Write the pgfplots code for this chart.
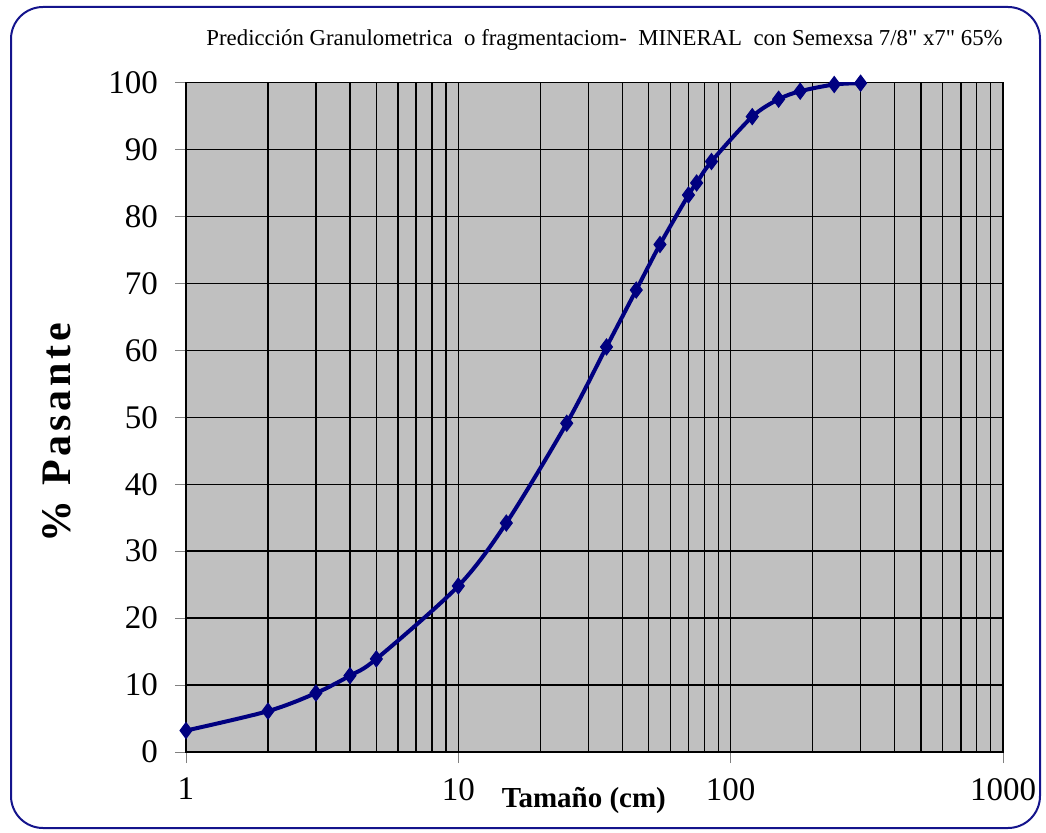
\documentclass[border=0pt]{standalone}
\usepackage{pgfplots}
\pgfplotsset{compat=1.18}
\usepackage{fontspec}
\setmainfont{Liberation Serif}
\newfontfamily\titlefont{Liberation Serif}[Ligatures=TeXOff]
\definecolor{serie}{RGB}{0,0,128}
\definecolor{fondo}{RGB}{192,192,192}
\definecolor{marco}{RGB}{20,20,140}
\begin{document}
\begin{tikzpicture}
\useasboundingbox (0,0) rectangle (523pt,416pt);
\draw[marco, line width=1pt, rounded corners=16pt] (5.5pt,2pt) rectangle (520pt,412.5pt);
\begin{axis}[
    at={(93pt,40pt)}, anchor=south west,
    scale only axis,
    width=408.5pt, height=334.75pt,
    xmode=log,
    xmin=1, xmax=1000,
    ymin=0, ymax=100,
    xtick={1,10,100,1000},
    xticklabels={1,10,100,1000},
    ytick={0,10,...,100},
    /pgf/number format/assume math mode=true,
    tick label style={font=\fontsize{16.5}{18}\selectfont},
    tick align=outside,
    xtick pos=bottom, ytick pos=left,
    major tick length=5.5pt,
    minor tick length=0pt,
    xticklabel style={yshift=-4pt},
    yticklabel style={xshift=-5pt},
    grid=both,
    major grid style={black, line width=0.7pt},
    minor grid style={black, line width=0.7pt},
    axis line style={black, line width=0.7pt},
    axis background/.style={fill=fondo},
    xlabel={\textbf{Tamaño (cm)}},
    xlabel style={font=\fontsize{14.5}{16}\selectfont, at={(axis description cs:0.487,-0.072)}, anchor=center},
    ylabel={\textbf{\addfontfeatures{LetterSpace=9}\% Pasante}},
    ylabel style={font=\fontsize{21}{24}\selectfont, at={(axis description cs:-0.158,0.48)}, anchor=center},
    every axis title shift=0pt,
    title={\titlefont Predicción Granulometrica\ \ o fragmentaciom-\ \ MINERAL\ \ con Semexsa 7/8" x7" 65\%},
    title style={font=\fontsize{11.4}{13}\selectfont, inner sep=0pt, at={(axis description cs:1.0,1.063)}, anchor=east},
]
\addplot[serie, line width=2pt, smooth, mark=diamond*, mark size=4pt,
    mark options={solid, line width=0.5pt}]
    coordinates {
(1,3.2)(2,6.1)(3,8.8)(4,11.4)(5,13.9)(10,24.8)(15,34.2)(25,49.1)
(35,60.5)(45,69.0)(55,75.8)(70,83.2)(75,85.0)(85,88.2)(120,94.9)
(150,97.5)(180,98.7)(240,99.7)(300,99.9)};
\end{axis}
\end{tikzpicture}
\end{document}
